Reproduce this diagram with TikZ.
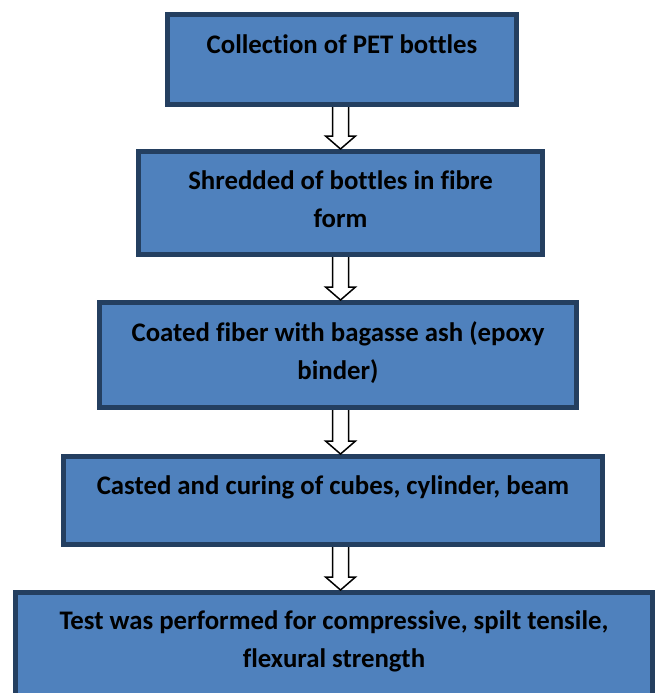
\documentclass[tikz,border=0pt]{standalone}
\usepackage{fontspec}
\setmainfont{Carlito}[Ligatures=NoCommon]
\usetikzlibrary{calc}

\definecolor{stagefill}{HTML}{4F81BD}
\definecolor{stageline}{HTML}{243F60}

\begin{document}
\begin{tikzpicture}
        [x=1pt,y=-1pt,
         stage/.style={draw=stageline,fill=stagefill,line width=5pt,inner sep=0,outer sep=2.5pt},
         caption/.style={font=\fontsize{26.8}{38}\selectfont\bfseries,align=center,anchor=base,inner sep=0},
         hollow/.style={draw=black,fill=white,line width=1.5pt,line join=miter}]

        \useasboundingbox (0,0) rectangle (657,693);
        \clip (0,0) rectangle (657,693);

        % the five process stages
        \node[stage,minimum width=349pt,minimum height=90pt] (collect) at (342,59.5) {};
        \node[stage,minimum width=404pt,minimum height=103pt] (shred) at (340.5,203) {};
        \node[stage,minimum width=477pt,minimum height=105pt] (coat) at (338,355) {};
        \node[stage,minimum width=539pt,minimum height=88pt] (cast) at (333,500.5) {};
        \node[stage,minimum width=637pt,minimum height=105pt] (test) at (334,645) {};

        % base sits on the last line, so two-line captions go one line lower
        \node[caption] (collect-text) at ($(collect.north)+(0,41)$) {Collection of PET bottles};
        \node[caption] (shred-text) at ($(shred.north)+(0,78)$) {Shredded of bottles in fibre\\form};
        \node[caption] (coat-text) at ($(coat.north)+(0,79)$) {Coated fiber with bagasse ash (epoxy\\binder)};
        \node[caption] (cast-text) at ($(cast.north)+(0,40)$) {Casted and curing of cubes, cylinder, beam};
        \node[caption] (test-text) at ($(test.north)+(0,77)$) {Test was performed for compressive, spilt tensile,\\flexural strength};

        % hollow block arrows between the stages
        \coordinate (spine) at (340.5,0);
        \foreach \from/\to in {collect/shred,shred/coat,coat/cast,cast/test}
          \draw[hollow] ($(\from.south -| spine)+(-8,0)$) -- ($(\to.north -| spine)+(-8,-13)$)
            -- ($(\to.north -| spine)+(-15,-13)$) -- (\to.north -| spine)
            -- ($(\to.north -| spine)+(15,-13)$) -- ($(\to.north -| spine)+(8,-13)$)
            -- ($(\from.south -| spine)+(8,0)$);
\end{tikzpicture}
\end{document}
